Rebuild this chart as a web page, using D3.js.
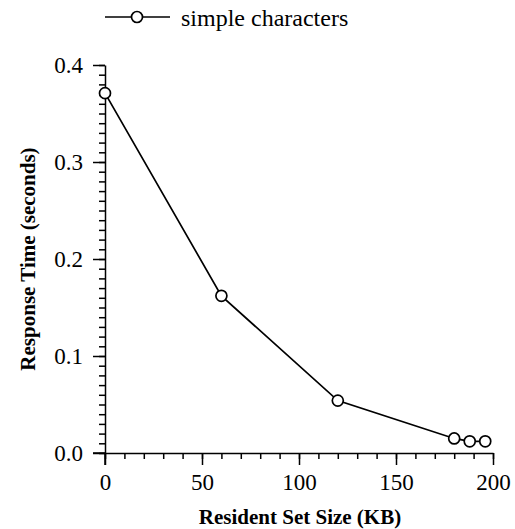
<!DOCTYPE html>
<html><head><meta charset="utf-8">
<script src="https://cdn.jsdelivr.net/npm/d3@7/dist/d3.min.js"></script>
<style>
body{margin:0;background:#fff;}
svg{display:block;}
text{font-family:"Liberation Serif","Times New Roman",serif;fill:#000;}
</style></head>
<body><svg id="c" width="515" height="529"></svg>
<script>
const sizesKB = [0, 60, 120, 180, 188, 196];
const responseSec = [0.371, 0.162, 0.054, 0.015, 0.012, 0.012];
const xTickVals = [0, 50, 100, 150, 200];
const yTickVals = [0.0, 0.1, 0.2, 0.3, 0.4];
const seriesName = "simple characters";
const xTitle = "Resident Set Size (KB)";
const yTitle = "Response Time (seconds)";

const svg = d3.select("#c");
const x = d3.scaleLinear().domain([0, 200]).range([105, 493]);
const y = d3.scaleLinear().domain([0, 0.4]).range([453, 65]);

// minor ticks
const xMinor = d3.range(0, 201, 10);
const yMinor = d3.range(0, 41, 1).map(d => d / 100);

svg.append("g").attr("transform", "translate(0,453)")
  .call(d3.axisBottom(x).tickValues(xMinor).tickSize(6).tickSizeOuter(0).tickFormat(""))
  .call(g => g.select(".domain").remove());
svg.append("g").attr("transform", "translate(105,0)")
  .call(d3.axisLeft(y).tickValues(yMinor).tickSize(6).tickSizeOuter(0).tickFormat(""))
  .call(g => g.select(".domain").remove());

const xAxis = svg.append("g").attr("transform", "translate(0,453)")
  .call(d3.axisBottom(x).tickValues(xTickVals).tickSize(12).tickSizeOuter(0).tickPadding(9).tickFormat(d3.format("d")));
const yAxis = svg.append("g").attr("transform", "translate(105,0)")
  .call(d3.axisLeft(y).tickValues(yTickVals).tickSize(12).tickSizeOuter(0).tickPadding(10).tickFormat(d3.format(".1f")));

svg.selectAll(".tick line, .domain").attr("stroke", "#000").attr("stroke-width", 1.5);
svg.selectAll(".tick text").style("font-size", "23px").attr("fill", "#000");

// extend y axis to meet x major tick, x axis to meet y major tick
svg.append("line").attr("x1", 105).attr("x2", 105).attr("y1", 453).attr("y2", 465).attr("stroke", "#000").attr("stroke-width", 1.5);
svg.append("line").attr("x1", 93).attr("x2", 105).attr("y1", 453).attr("y2", 453).attr("stroke", "#000").attr("stroke-width", 1.5);

const data = sizesKB.map((s, i) => ({ s, r: responseSec[i] }));
svg.append("path").datum(data)
  .attr("fill", "none").attr("stroke", "#000").attr("stroke-width", 1.7)
  .attr("d", d3.line().x(d => x(d.s)).y(d => y(d.r)));
svg.selectAll("circle.pt").data(data).enter().append("circle").attr("class", "pt")
  .attr("cx", d => x(d.s)).attr("cy", d => y(d.r)).attr("r", 5.5)
  .attr("fill", "#fff").attr("stroke", "#000").attr("stroke-width", 1.7);

// legend
const lg = svg.append("g");
lg.append("line").attr("x1", 105).attr("x2", 170).attr("y1", 17).attr("y2", 17).attr("stroke", "#000").attr("stroke-width", 1.5);
lg.append("circle").attr("cx", 137).attr("cy", 17).attr("r", 5.5).attr("fill", "#fff").attr("stroke", "#000").attr("stroke-width", 1.7);
lg.append("text").attr("x", 181).attr("y", 26).style("font-size", "24px").text(seriesName);

// titles
svg.append("text").attr("x", 300).attr("y", 524).attr("text-anchor", "middle")
  .style("font-size", "21px").style("font-weight", "bold").text(xTitle);
svg.append("text").attr("transform", "translate(35,259) rotate(-90)").attr("text-anchor", "middle")
  .style("font-size", "21px").style("font-weight", "bold").text(yTitle);
</script></body></html>
